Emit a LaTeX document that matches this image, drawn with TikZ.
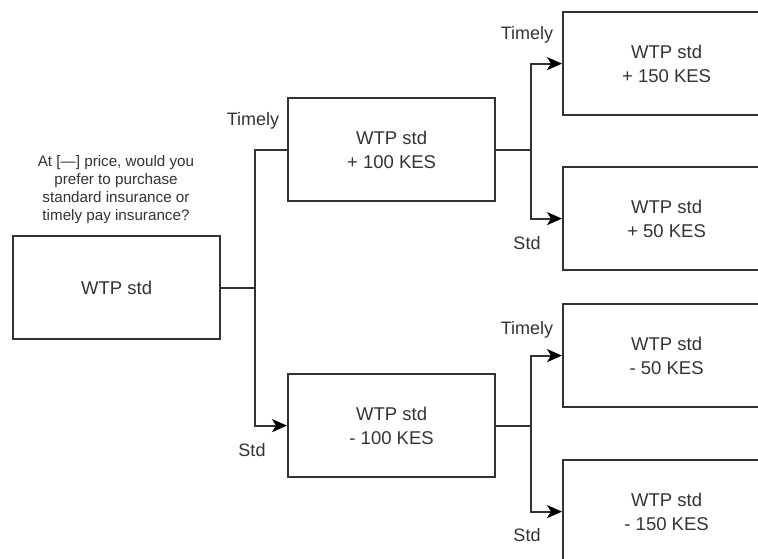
\documentclass[tikz,border=0pt]{standalone}
\usepackage{fontspec}
\setmainfont{Liberation Sans}
\usetikzlibrary{arrows.meta}
\definecolor{ink}{HTML}{333333}
\begin{document}
\begin{tikzpicture}[x=1pt,y=-1pt,
  box/.style={draw=ink,line width=2.2pt,minimum width=207pt,minimum height=103pt,anchor=north west,inner sep=0pt,
    align=center,text=ink,font=\fontsize{18.5}{24}\selectfont},
  lbl/.style={text=ink,font=\fontsize{18}{20}\selectfont,inner sep=0pt},
  conn/.style={draw=ink,line width=2.2pt},
  arr/.style={conn,-{Stealth[length=15pt,width=13pt,inset=4pt,color=black]}}]
\useasboundingbox (0,0) rectangle (758,558);
\clip (0,0) rectangle (758,558);
\node[box] (root) at (12,235) {WTP std};
\node[text=ink,align=center,font=\fontsize{15.2}{18}\selectfont,inner sep=0pt] (q) at (116,190)
  {At [---] price, would you\\prefer to purchase\\standard insurance or\\timely pay insurance?};
\node[box] (A) at (287,97) {WTP std\\+ 100 KES};
\node[box] (B) at (287,373) {WTP std\\- 100 KES};
\node[box] (C) at (562,11) {WTP std\\+ 150 KES};
\node[box] (D) at (562,166) {WTP std\\+ 50 KES};
\node[box] (E) at (562,303) {WTP std\\- 50 KES};
\node[box] (F) at (562,459) {WTP std\\- 150 KES};
\draw[conn] (root.east) -- ++(34,0) coordinate (j0);
\draw[conn] (j0) |- (A.west);
\draw[arr] (j0) |- (B.west);
\draw[conn] (A.east) -- ++(35,0) coordinate (j1);
\draw[arr] (j1) |- (C.west);
\draw[arr] (j1) |- (D.west);
\draw[conn] (B.east) -- ++(35,0) coordinate (j2);
\draw[arr] (j2) |- (E.west);
\draw[arr] (j2) |- (F.west);
\node[lbl] (l1) at (253,121) {Timely};
\node[lbl] (l2) at (252,450) {Std};
\node[lbl] (l3) at (527,35) {Timely};
\node[lbl] (l4) at (527,243) {Std};
\node[lbl] (l5) at (527,330) {Timely};
\node[lbl] (l6) at (527,535) {Std};
\end{tikzpicture}
\end{document}
